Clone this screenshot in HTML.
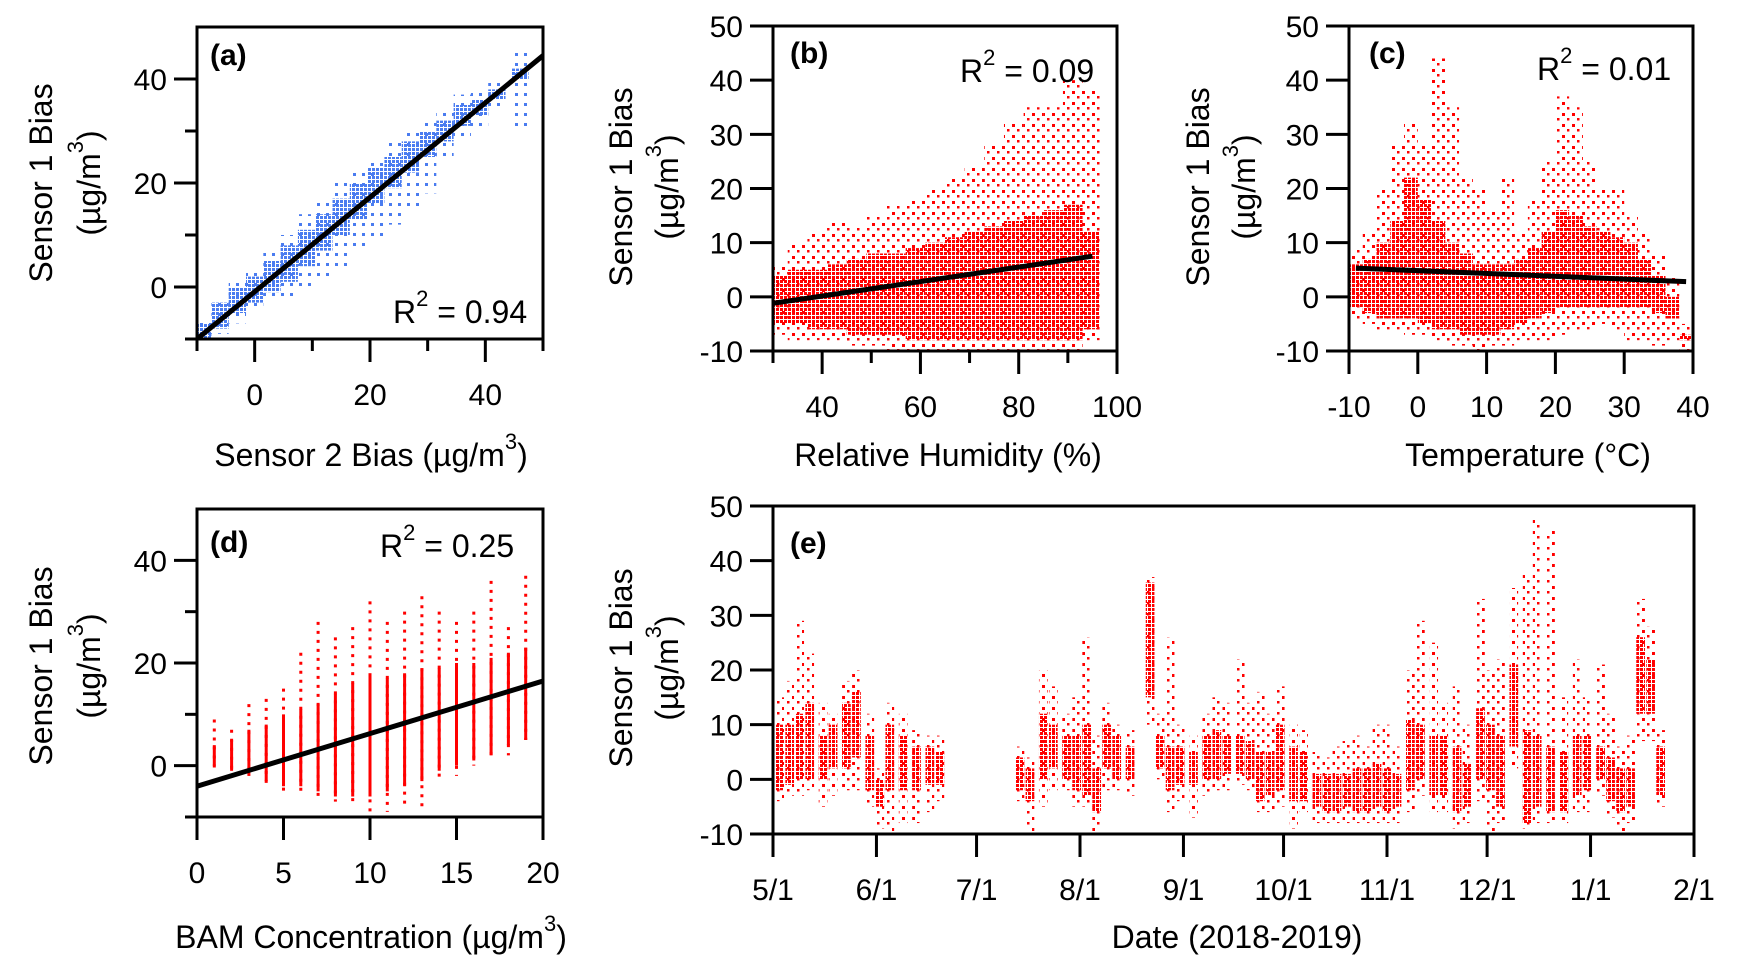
<!DOCTYPE html>
<html><head><meta charset="utf-8"><title>Sensor bias</title>
<style>
html,body{margin:0;padding:0;background:#fff;}
svg{display:block;font-family:"Liberation Sans",Arial,sans-serif;}
</style></head>
<body>
<svg id="fig" width="1741" height="973" viewBox="0 0 1741 973" xmlns="http://www.w3.org/2000/svg">
<defs>
<pattern id="redCore" width="4" height="4" patternUnits="userSpaceOnUse"><rect x="0" y="0" width="3" height="3" fill="#ff0000"/></pattern>
<pattern id="redOut" width="10" height="11" patternUnits="userSpaceOnUse"><rect x="2" y="3" width="3" height="3" fill="#ff0000"/><rect x="7" y="8" width="2.5" height="2.5" fill="#ff0000"/></pattern>
<pattern id="blueCore" width="4" height="4" patternUnits="userSpaceOnUse"><rect x="0" y="0" width="3" height="3" fill="#4a7cf0"/></pattern>
<pattern id="blueOut" width="9" height="10" patternUnits="userSpaceOnUse"><rect x="2" y="3" width="3" height="3" fill="#4a7cf0"/></pattern>
</defs>
</svg>
<script>
// ---- Panel (a): Sensor 2 bias vs Sensor 1 bias ----
const aX = [-9,-6,-3,0,3,6,9,12,15,18,21,24,27,30,33,36,39,42,46];
const aCoreLo = [-10,-8,-5,-3,-1,1,4,7,10,13,16,19,22,25,28,31,33,36,40];
const aCoreHi = [-7,-3,0,2,5,8,11,14,17,20,23,25,28,30,32,35,36,38,42];
const aOutLo = [-10,-9,-7,-5,-3,-2,0,2,4,7,9,12,15,18,24,28,30,34,30];
const aOutHi = [-6,-2,1,4,7,10,14,17,20,23,25,28,30,32,34,37,38,40,46];
const aFit = [-10,-10,50,44.5];
// ---- Panel (b): RH ----
const bX = [31,35,39,43,47,51,55,59,63,67,71,75,79,83,87,91,94.5];
const bCoreLo = [-5,-5,-6,-6,-7,-7,-7,-8,-8,-8,-8,-8,-8,-8,-8,-8,-6];
const bCoreHi = [4,5,5,6,7,8,8,9,10,11,12,13,14,15,16,17,12];
const bOutLo = [-7,-8,-8,-8,-9,-9,-10,-10,-10,-10,-10,-10,-10,-10,-10,-10,-8];
const bOutHi = [6,10,12,14,13,15,17,18,20,22,24,28,32,35,35,40,38];
const bFit = [30,-1.2,95,7.5];
// ---- Panel (c): Temperature ----
const cX = [-9,-7,-5,-3,-1,1,3,5,7,9,11,13,15,17,19,21,23,25,27,29,31,33,35,37,39];
const cCoreLo = [-2,-3,-4,-4,-4,-5,-6,-6,-7,-7,-7,-6,-5,-4,-3,-2,-2,-2,-2,-2,-2,-2,-3,-4,-8];
const cCoreHi = [6,7,10,14,22,18,14,10,8,6,6,6,7,9,12,16,15,13,12,11,10,7,4,0,-7];
const cOutLo = [-4,-5,-6,-6,-7,-7,-8,-9,-9,-10,-9,-9,-8,-8,-8,-7,-6,-6,-5,-6,-8,-8,-9,-8,-10];
const cOutHi = [9,12,20,28,32,28,44,35,22,20,16,22,12,18,25,37,35,25,20,20,15,12,8,4,-5];
const cFit = [-9,5.3,39,2.8];
// ---- Panel (d): BAM concentration ----
const dX = [0,1,2,3,4,5,6,7,8,9,10,11,12,13,14,15,16,17,18,19,20];
const dLo = [-3,-1,-1,-2,-4,-5,-5,-7,-7,-8,-10,-9,-8,-8,-3,-2,0,1,2,5,4];
const dHi = [10,9,7,12,13,15,22,28,25,27,32,28,30,33,30,28,30,36,27,37,44];
const dCoreLo = [-1,0,-1,-2,-3,-4,-4,-5,-6,-6,-6,-5,-4,-3,-1,0,1,2,4,5,5];
const dCoreHi = [3,4,5,7,8,10,11,12,14,16,18,17,18,19,19,20,20,21,22,23,25];
const dFit = [0,-4,20,16.5];
// ---- Panel (e): time series (day index from 5/1/2018) ----
const eDay = [2,5,8,11,15,18,22,25,29,32,35,39,43,47,50,74,77,81,84,88,91,94,97,100,103,107,113,116,119,122,126,130,133,136,140,143,146,149,152,156,159,163,166,169,172,175,178,181,184,187,191,194,198,201,205,208,212,215,218,222,226,229,233,237,241,244,248,251,254,257,260,263,266];
const eCoreLo = [-2,-1,0,0,0,2,2,4,-2,-5,-2,-2,-2,-1,-1,-2,-4,0,2,0,-2,-3,-6,2,0,0,15,2,-2,-1,-1,0,0,1,1,0,-4,-3,-2,-4,-4,-5,-6,-6,-5,-6,-6,-5,-6,-5,-2,0,-3,-3,-6,-5,0,-2,-5,6,-8,-5,-6,-6,-3,-2,0,-4,-6,-5,12,12,-3];
const eCoreHi = [10,10,12,14,8,10,14,16,8,0,10,8,6,6,5,4,2,12,10,8,8,10,2,10,8,6,36,8,6,6,5,8,9,8,8,7,5,5,10,6,5,1,1,1,1,2,2,3,2,1,11,10,8,8,6,3,13,10,8,21,9,8,6,5,8,8,6,4,2,2,26,22,6];
const eOutLo = [-4,-3,-3,-2,-5,-3,-2,-2,-5,-9,-10,-8,-8,-6,-4,-4,-10,-5,-2,-2,-5,-5,-10,-2,-2,-3,10,0,-6,-4,-7,-3,-2,-2,-1,-2,-6,-6,-5,-9,-6,-8,-8,-8,-8,-8,-8,-8,-8,-8,-6,-3,-6,-6,-9,-8,-4,-10,-8,2,-9,-8,-8,-8,-6,-6,-3,-7,-10,-8,7,7,-5];
const eOutHi = [15,18,29,23,14,12,18,20,12,2,14,12,9,8,8,6,4,20,17,12,15,26,8,14,10,9,37,12,26,10,8,12,15,14,22,14,16,12,17,10,9,5,4,6,7,8,6,10,10,6,20,29,25,14,17,10,33,20,22,35,38,48,46,15,22,15,21,12,6,8,33,28,9];
const eMonths = ['5/1','6/1','7/1','8/1','9/1','10/1','11/1','12/1','1/1','2/1'];
const eMonthDays = [0,31,61,92,123,153,184,214,245,276];
const yTicks50 = [-10,0,10,20,30,40,50];

const NS = 'http://www.w3.org/2000/svg';
const svg = document.getElementById('fig');
function el(tag, attrs, parent, text){
  const e = document.createElementNS(NS, tag);
  for (const k in attrs) e.setAttribute(k, attrs[k]);
  if (text !== undefined) e.textContent = text;
  (parent || svg).appendChild(e);
  return e;
}
function axisFns(p){
  return {
    x: v => p.px0 + (v - p.x0) / (p.x1 - p.x0) * (p.px1 - p.px0),
    y: v => p.py0 + (v - p.y0) / (p.y1 - p.y0) * (p.py1 - p.py0)
  };
}
const FS = 30;
const TS = 32;
function drawFrame(g, p){
  const f = el('rect', {x:p.px0, y:p.py1, width:p.px1-p.px0, height:p.py0-p.py1, fill:'none', stroke:'#000', 'stroke-width':3}, g);
  
  
}
function xTick(g, p, fx, v, major, label){
  const X = fx(v);
  const t = el('line', {x1:X, x2:X, y1:p.py0, y2:p.py0 + (major?23:12), stroke:'#000', 'stroke-width':3}, g);
  
  
  if (label !== undefined){
    const tx = el('text', {x:X, y:p.py0+66, 'font-size':FS, 'text-anchor':'middle', fill:'#000'}, g, label);
    
    
  }
}
function yTick(g, p, fy, v, major, label){
  const Y = fy(v);
  const t = el('line', {x1:p.px0-(major?23:12), x2:p.px0, y1:Y, y2:Y, stroke:'#000', 'stroke-width':3}, g);
  
  
  if (label !== undefined){
    const tx = el('text', {x:p.px0-30, y:Y+11, 'font-size':FS, 'text-anchor':'end', fill:'#000'}, g, label);
    
    
  }
}
function yTitle(g, cx1, cx2, cy){
  const t1 = el('text', {x:0, y:0, 'font-size':TS, 'text-anchor':'middle', transform:`translate(${cx1},${cy}) rotate(-90)`, fill:'#000'}, g, 'Sensor 1 Bias');
  
  
  const t2 = el('text', {x:0, y:0, 'font-size':TS, 'text-anchor':'middle', transform:`translate(${cx2},${cy}) rotate(-90)`, fill:'#000'}, g);
  
  
  el('tspan', {}, t2, '(\u00b5g/m');
  el('tspan', {'font-size':22, dy:-17}, t2, '3');
  el('tspan', {dy:17}, t2, ')');
}
function xTitle(g, cx, by, txt, sup){
  const t = el('text', {x:cx, y:by, 'font-size':TS, 'text-anchor':'middle', fill:'#000'}, g);
  
  
  el('tspan', {}, t, txt);
  if (sup){ el('tspan', {'font-size':22, dy:-17}, t, '3'); el('tspan', {dy:17}, t, ')'); }
}
function panelLabel(g, x, y, s){
  const t = el('text', {x:x, y:y, 'font-size':30, 'font-weight':'bold', fill:'#000'}, g, s);
  
  
}
function r2(g, x, y, val){
  const t = el('text', {x:x, y:y, 'font-size':TS, fill:'#000'}, g);
  
  
  el('tspan', {}, t, 'R');
  el('tspan', {'font-size':22, dy:-17}, t, '2');
  el('tspan', {dy:17}, t, ' = ' + val);
}
function bands(g, f, xs, w, lo, hi, fill, name){
  for (let i = 0; i < xs.length; i++){
    const x0 = f.x(xs[i] - w/2), x1 = f.x(xs[i] + w/2);
    const yTop = f.y(hi[i]), yBot = f.y(lo[i]);
    const r = el('rect', {x:x0, y:yTop, width:Math.max(1, x1-x0), height:Math.max(3, yBot-yTop), fill:fill}, g);
    
    
  }
}
function fitLine(g, f, fit){
  const l = el('line', {x1:f.x(fit[0]), y1:f.y(fit[1]), x2:f.x(fit[2]), y2:f.y(fit[3]), stroke:'#000', 'stroke-width':5}, g);
  
  
}
function clip(id, p){
  const c = el('clipPath', {id:id}, svg.querySelector('defs'));
  el('rect', {x:p.px0, y:p.py1, width:p.px1-p.px0, height:p.py0-p.py1}, c);
}

// Panel A
(function(){
  const p = {px0:197, px1:543, x0:-10, x1:50, py0:339, py1:27, y0:-10, y1:50};
  const f = axisFns(p);
  const g = el('g', {});  
  clip('clipA', p);
  const d = el('g', {'clip-path':'url(#clipA)'}, g);  
  bands(d, f, aX, 3, aOutLo, aOutHi, 'url(#blueOut)', 'sparse-points');
  bands(d, f, aX, 3, aCoreLo, aCoreHi, 'url(#blueCore)', 'dense-points');
  fitLine(d, f, aFit);
  drawFrame(g, p);
  [-10,0,10,20,30,40,50].forEach(v => xTick(g, p, f.x, v, v%20===0, v%20===0 ? String(v) : undefined));
  [-10,0,10,20,30,40].forEach(v => yTick(g, p, f.y, v, v%20===0, v%20===0 ? String(v) : undefined));
  panelLabel(g, 210, 65, '(a)');
  r2(g, 393, 323, '0.94');
  yTitle(g, 52, 100, 183);
  xTitle(g, 371, 466, 'Sensor 2 Bias (\u00b5g/m', true);
})();
// Panel B
(function(){
  const p = {px0:773, px1:1117, x0:30, x1:100, py0:351, py1:26, y0:-10, y1:50};
  const f = axisFns(p);
  const g = el('g', {});  
  clip('clipB', p);
  const d = el('g', {'clip-path':'url(#clipB)'}, g);  
  bands(d, f, bX, 4, bOutLo, bOutHi, 'url(#redOut)', 'sparse-points');
  bands(d, f, bX, 4, bCoreLo, bCoreHi, 'url(#redCore)', 'dense-points');
  fitLine(d, f, bFit);
  drawFrame(g, p);
  [30,40,50,60,70,80,90,100].forEach(v => xTick(g, p, f.x, v, v%20===0, v%20===0 ? String(v) : undefined));
  yTicks50.forEach(v => yTick(g, p, f.y, v, true, String(v)));
  panelLabel(g, 790, 63, '(b)');
  r2(g, 960, 82, '0.09');
  yTitle(g, 632, 678, 187);
  xTitle(g, 948, 466, 'Relative Humidity (%)', false);
})();
// Panel C
(function(){
  const p = {px0:1349, px1:1693, x0:-10, x1:40, py0:351, py1:26, y0:-10, y1:50};
  const f = axisFns(p);
  const g = el('g', {});  
  clip('clipC', p);
  const d = el('g', {'clip-path':'url(#clipC)'}, g);  
  bands(d, f, cX, 2, cOutLo, cOutHi, 'url(#redOut)', 'sparse-points');
  bands(d, f, cX, 2, cCoreLo, cCoreHi, 'url(#redCore)', 'dense-points');
  fitLine(d, f, cFit);
  drawFrame(g, p);
  [-10,0,10,20,30,40].forEach(v => xTick(g, p, f.x, v, true, String(v)));
  yTicks50.forEach(v => yTick(g, p, f.y, v, true, String(v)));
  panelLabel(g, 1369, 63, '(c)');
  r2(g, 1537, 80, '0.01');
  yTitle(g, 1209, 1255, 187);
  xTitle(g, 1528, 466, 'Temperature (\u00b0C)', false);
})();
// Panel D
(function(){
  const p = {px0:197, px1:543, x0:0, x1:20, py0:817, py1:509, y0:-10, y1:50};
  const f = axisFns(p);
  const g = el('g', {});  
  clip('clipD', p);
  const d = el('g', {'clip-path':'url(#clipD)'}, g);  
  for (let i = 0; i < dX.length; i++){
    const X = f.x(dX[i]);
    const o = el('line', {x1:X, x2:X, y1:f.y(dHi[i]), y2:f.y(dLo[i]), stroke:'#ff0000', 'stroke-width':3, 'stroke-dasharray':'3 6'}, d);
    
    
    const c = el('line', {x1:X, x2:X, y1:f.y(dCoreHi[i]), y2:f.y(dCoreLo[i]), stroke:'#ff0000', 'stroke-width':3}, d);
    
    
  }
  fitLine(d, f, dFit);
  drawFrame(g, p);
  [0,5,10,15,20].forEach(v => xTick(g, p, f.x, v, true, String(v)));
  [-10,0,10,20,30,40].forEach(v => yTick(g, p, f.y, v, v%20===0, v%20===0 ? String(v) : undefined));
  panelLabel(g, 210, 552, '(d)');
  r2(g, 380, 557, '0.25');
  yTitle(g, 52, 100, 666);
  xTitle(g, 371, 948, 'BAM Concentration (\u00b5g/m', true);
})();
// Panel E
(function(){
  const p = {px0:773, px1:1694, x0:0, x1:276, py0:834, py1:506, y0:-10, y1:50};
  const f = axisFns(p);
  const g = el('g', {});  
  clip('clipE', p);
  const d = el('g', {'clip-path':'url(#clipE)'}, g);  
  bands(d, f, eDay, 2.6, eOutLo, eOutHi, 'url(#redOut)', 'sparse-points');
  bands(d, f, eDay, 2.6, eCoreLo, eCoreHi, 'url(#redCore)', 'dense-points');
  drawFrame(g, p);
  eMonthDays.forEach((v, i) => xTick(g, p, f.x, v, true, eMonths[i]));
  yTicks50.forEach(v => yTick(g, p, f.y, v, true, String(v)));
  panelLabel(g, 790, 553, '(e)');
  yTitle(g, 632, 678, 668);
  xTitle(g, 1237, 948, 'Date (2018-2019)', false);
})();
</script>
</body></html>
